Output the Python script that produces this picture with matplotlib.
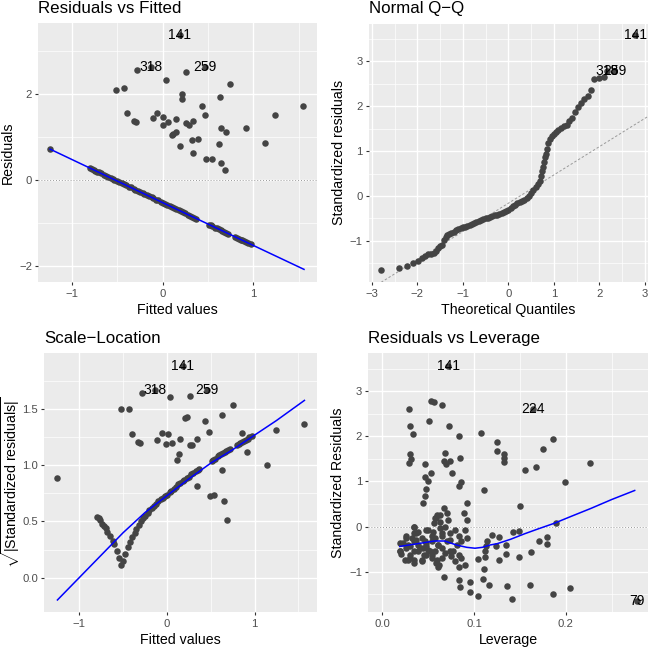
import numpy as np
import matplotlib
matplotlib.use("Agg")
import matplotlib.pyplot as plt

plt.rcParams['font.family'] = ['Liberation Sans', 'DejaVu Sans']
plt.rcParams['mathtext.fontset'] = 'custom'
plt.rcParams['mathtext.rm'] = 'Liberation Sans'
plt.rcParams['mathtext.it'] = 'Liberation Sans:italic'

PT_COL = '#444444'

# ---- Residuals vs Fitted: points off the line
rf_fit = [0.19, -0.28, -0.13, 0.47, 0.26, 0.04, -0.51, -0.42, 0.74, 0.22, 0.21, 0.63,
          0.43, 1.55, -0.39, 0.47, 1.24, -0.06, -0.10, 0.01, 0.15, -0.32, -0.29, 0.06,
          0.00, 0.26, 0.29, 0.34, 0.65, 0.92, 0.70, 0.15, 0.12, 0.10, 0.32, 0.39, 0.62,
          1.13, 0.19, 0.34, 0.48, 0.54, 0.64, 0.69, -1.24]
rf_res = [3.36, 2.55, 2.63, 2.63, 2.51, 2.32, 2.10, 2.15, 2.23, 1.99, 1.88, 1.92,
          1.72, 1.72, 1.55, 1.52, 1.52, 1.55, 1.45, 1.47, 1.43, 1.38, 1.35, 1.35,
          1.28, 1.33, 1.29, 1.38, 1.20, 1.21, 1.12, 1.12, 1.07, 1.04, 0.93, 0.96, 0.85,
          0.87, 0.79, 0.63, 0.48, 0.50, 0.40, 0.23, 0.72]
# points lying on the y = const line
line_fit = [-0.80, -0.78, -0.76, -0.74, -0.72, -0.70, -0.68, -0.65, -0.62, -0.60,
            -0.57, -0.55, -0.53, -0.50, -0.48, -0.45, -0.42, -0.40, -0.37, -0.35,
            -0.32, -0.30, -0.27, -0.25, -0.22, -0.20, -0.17, -0.15, -0.12, -0.10,
            -0.07, -0.05, -0.02, 0.00, 0.03, 0.05, 0.08, 0.10, 0.13, 0.15, 0.18,
            0.20, 0.23, 0.25, 0.28, 0.30, 0.33, 0.35, 0.37, 0.51, 0.53, 0.55, 0.58,
            0.60, 0.62, 0.64, 0.66, 0.68, 0.70, 0.72, 0.80, 0.82, 0.84, 0.86, 0.88,
            0.90, 0.92, 0.94, 0.97]
line_res = [0.28, 0.26, 0.24, 0.22, 0.20, 0.18, 0.16, 0.13, 0.10, 0.08,
            0.05, 0.03, 0.01, -0.02, -0.04, -0.07, -0.10, -0.12, -0.15, -0.17,
            -0.20, -0.22, -0.25, -0.27, -0.30, -0.32, -0.35, -0.37, -0.40, -0.42,
            -0.45, -0.47, -0.50, -0.52, -0.55, -0.57, -0.60, -0.62, -0.65, -0.67, -0.70,
            -0.72, -0.75, -0.77, -0.80, -0.82, -0.85, -0.87, -0.89, -1.03, -1.05, -1.07, -1.10,
            -1.12, -1.14, -1.16, -1.18, -1.20, -1.22, -1.24, -1.32, -1.34, -1.36, -1.38, -1.40,
            -1.42, -1.44, -1.46, -1.49]
rf_smooth_x = [-1.24, 0.00, 1.56]
rf_smooth_y = [0.72, -0.52, -2.07]
rf_labels = ['141', '318', '259']
rf_lab_x = [0.19, -0.13, 0.47]
rf_lab_y = [3.36, 2.63, 2.63]

# ---- Normal Q-Q
qq_theo = [-2.79, -2.41, -2.22, -2.09, -1.98, -1.90, -1.82, -1.76, -1.70, -1.64,
           -1.59, -1.54, -1.50, -1.46, -1.42, -1.38, -1.34, -1.30, -1.25, -1.20,
           -1.15, -1.10, -1.05, -1.00, -0.95, -0.90, -0.85, -0.80, -0.75, -0.70,
           -0.65, -0.60, -0.55, -0.50, -0.45, -0.40, -0.35, -0.30, -0.25, -0.20,
           -0.15, -0.10, -0.05, 0.00, 0.05, 0.10, 0.15, 0.20, 0.25, 0.30, 0.35,
           0.40, 0.45, 0.50, 0.55, 0.60, 0.65, 0.70, 0.72, 0.74, 0.76, 0.78, 0.80,
           0.82, 0.85, 0.88, 0.91, 0.95, 1.00, 1.05, 1.10, 1.16, 1.22, 1.28, 1.34,
           1.40, 1.46, 1.52, 1.59, 1.66, 1.74, 1.82, 1.89, 1.98, 2.09, 2.17, 2.33, 2.79]
qq_std = [-1.65, -1.61, -1.55, -1.50, -1.45, -1.37, -1.33, -1.30, -1.28, -1.26,
          -1.22, -1.16, -1.12, -1.08, -0.97, -0.91, -0.87, -0.84, -0.82, -0.79,
          -0.76, -0.74, -0.72, -0.70, -0.68, -0.66, -0.64, -0.62, -0.60, -0.58,
          -0.56, -0.54, -0.52, -0.50, -0.48, -0.47, -0.45, -0.43, -0.42, -0.40,
          -0.38, -0.36, -0.33, -0.30, -0.27, -0.23, -0.19, -0.16, -0.13, -0.11, -0.08,
          -0.04, 0.01, 0.07, 0.14, 0.21, 0.27, 0.33, 0.45, 0.55, 0.65, 0.76, 0.86,
          0.94, 1.05, 1.17, 1.27, 1.34, 1.39, 1.43, 1.47, 1.51, 1.55, 1.59, 1.66,
          1.74, 1.86, 1.99, 2.08, 2.17, 2.23, 2.35, 2.60, 2.62, 2.66, 2.78, 2.78, 3.59]
qq_line_int = -0.16
qq_line_slope = 0.63
qq_labels = ['141', '318', '259']
qq_lab_x = [2.79, 2.17, 2.33]
qq_lab_y = [3.59, 2.78, 2.78]

# ---- Scale-Location
sl_fit = [0.18, -0.29, -0.14, 0.46, 0.26, 0.04, -0.52, -0.43, 0.75, 0.21, 0.23, 0.63,
          0.43, 1.25, 1.57, 0.48, -0.40, -0.06, 0.01, -0.11, 0.15, 0.34, -0.33, -0.31,
          -0.01, 0.06, 0.26, 0.29, 0.14, 0.11, 0.91, 1.14, 0.63, 0.34, 0.49, 0.54, 0.65,
          0.69, -1.25, 0.86]
sl_val = [1.89, 1.65, 1.67, 1.67, 1.62, 1.61, 1.50, 1.50, 1.54, 1.42, 1.43, 1.45,
          1.40, 1.32, 1.37, 1.30, 1.28, 1.29, 1.28, 1.23, 1.24, 1.24, 1.21, 1.20,
          1.19, 1.20, 1.18, 1.18, 1.10, 1.05, 1.12, 1.00, 0.96, 0.82, 0.73, 0.74, 0.68,
          0.51, 0.89, 1.29]
sl_line_val = [0.54, 0.53, 0.51, 0.48, 0.46, 0.44, 0.41, 0.37, 0.33, 0.30,
               0.24, 0.17, 0.11, 0.15, 0.21, 0.27, 0.32, 0.36, 0.40, 0.43,
               0.47, 0.50, 0.53, 0.55, 0.58, 0.60, 0.62, 0.64, 0.66, 0.68,
               0.70, 0.71, 0.73, 0.74, 0.76, 0.77, 0.79, 0.81, 0.83, 0.84, 0.86,
               0.87, 0.89, 0.90, 0.92, 0.93, 0.95, 0.96, 0.97, 1.04, 1.05, 1.06, 1.08,
               1.09, 1.10, 1.11, 1.12, 1.13, 1.14, 1.15, 1.18, 1.19, 1.20, 1.21, 1.22,
               1.23, 1.24, 1.25, 1.26]
sl_smooth_x = [-1.25, -0.80, -0.50, -0.25, 0.00, 0.25, 0.50, 0.75, 1.00, 1.25, 1.57]
sl_smooth_y = [-0.20, 0.16, 0.40, 0.58, 0.73, 0.88, 1.02, 1.14, 1.27, 1.40, 1.58]
sl_labels = ['141', '318', '259']
sl_lab_x = [0.18, -0.14, 0.46]
sl_lab_y = [1.89, 1.67, 1.67]

# ---- Residuals vs Leverage
lev = [0.072, 0.164, 0.277, 0.029, 0.030, 0.033, 0.053, 0.056, 0.065, 0.051, 0.073,
       0.083, 0.108, 0.125, 0.125, 0.133, 0.133, 0.133, 0.030, 0.031, 0.029, 0.046,
       0.068, 0.067, 0.069, 0.074, 0.085, 0.076, 0.053, 0.047, 0.050, 0.048, 0.047,
       0.044, 0.086, 0.083, 0.111, 0.155, 0.167, 0.175, 0.186, 0.199, 0.226, 0.150,
       0.092, 0.189, 0.179, 0.179, 0.171, 0.162, 0.149, 0.149, 0.142, 0.135, 0.135,
       0.127, 0.124, 0.127, 0.119, 0.114, 0.113, 0.112, 0.112, 0.111, 0.110, 0.116,
       0.104, 0.104, 0.095, 0.095, 0.084, 0.085, 0.067, 0.136, 0.141, 0.161, 0.186,
       0.205,
       0.057, 0.063, 0.070, 0.072, 0.067, 0.089, 0.092, 0.090, 0.034, 0.037, 0.050,
       0.055, 0.063, 0.068, 0.074, 0.079, 0.083, 0.026, 0.023, 0.019, 0.030, 0.035,
       0.043, 0.048, 0.054, 0.057, 0.065, 0.070, 0.074, 0.081, 0.086, 0.092, 0.030,
       0.035, 0.043, 0.048, 0.054, 0.059, 0.065, 0.075, 0.079, 0.083, 0.090, 0.061,
       0.026, 0.039, 0.044, 0.052, 0.061, 0.068, 0.077, 0.084, 0.039, 0.046, 0.057,
       0.065, 0.074, 0.032, 0.086, 0.020, 0.025,
       0.019, 0.019, 0.026, 0.028, 0.030, 0.028, 0.034, 0.035, 0.035, 0.039, 0.037,
       0.041, 0.035, 0.043, 0.045, 0.048, 0.048, 0.050, 0.054, 0.056, 0.058, 0.060,
       0.061, 0.054, 0.060, 0.063, 0.062, 0.065]
lev_std = [3.55, 2.61, -1.66, 2.61, 2.22, 2.05, 2.78, 2.76, 2.69, 2.34, 2.23,
           2.00, 2.08, 1.88, 1.67, 1.61, 1.52, 1.43, 1.61, 1.50, 1.41, 1.39,
           1.63, 1.45, 1.39, 1.46, 1.52, 1.18, 1.18, 1.09, 1.02, 0.84, 0.67,
           0.53, 0.98, 0.91, 0.80, 1.26, 1.33, 1.71, 1.94, 0.99, 1.41, 0.46,
           0.52, 0.07, -0.24, -0.38, -0.31, -0.56, -0.68, -0.10, -0.13, -0.40, -0.60,
           -0.24, -0.44, -0.73, -0.18, -0.33, -0.42, -0.55, -0.68, -0.94, -1.16, -1.29,
           -0.72, -1.54, -1.23, -1.44, -1.18, -1.35, -1.11, -1.32, -1.61, -1.29, -1.49,
           -1.36,
           0.20, 0.26, 0.30, 0.15, 0.41, 0.30, 0.15, -0.07, 0.00, -0.15, -0.07,
           -0.11, -0.04, 0.00, -0.15, -0.07, -0.22, -0.26, -0.37, -0.55, -0.44, -0.33,
           -0.26, -0.44, -0.33, -0.55, -0.48, -0.33, -0.55, -0.41, -0.33, -0.26, -0.70,
           -0.81, -0.77, -0.63, -0.70, -0.81, -0.70, -0.66, -0.77, -0.89, -0.85, -0.89,
           -0.48, -0.55, -0.48, -0.55, -0.41, -0.59, -0.55, -0.63, -0.41, -0.33, -0.26,
           -0.22, -0.30, -0.26, -0.70, -0.60, -0.74,
           -0.37, -0.55, -0.22, -0.41, -0.63, -0.74, -0.74, 0.00, -0.15, -0.11, -0.30,
           -0.48, -0.55, -0.74, -0.63, -0.07, -0.37, -0.52, -0.22, 0.07, 0.18, 0.26,
           -0.41, -0.63, -0.74, 0.11, -0.85, -0.15]
lev_smooth_x = [0.019, 0.035, 0.057, 0.068, 0.081, 0.092, 0.101, 0.109, 0.117, 0.125,
                0.140, 0.155, 0.170, 0.187, 0.205, 0.227, 0.250, 0.275]
lev_smooth_y = [-0.44, -0.39, -0.32, -0.32, -0.41, -0.46, -0.48, -0.46, -0.41, -0.38,
                -0.28, -0.16, -0.05, 0.07, 0.22, 0.40, 0.60, 0.80]
lev_labels = ['141', '224', '79']
lev_lab_x = [0.072, 0.164, 0.277]
lev_lab_y = [3.55, 2.61, -1.66]

W = H = 648.0
fig = plt.figure(figsize=(6.48, 6.48), dpi=100)
fig.patch.set_facecolor('white')


def make_panel(L, R, T, B, xlim, ylim, xmaj, xmin, ymaj, ymin, title, xlabel, ylabel, ylab_x):
    ax = fig.add_axes([L / W, 1 - B / H, (R - L) / W, (B - T) / H])
    ax.set_facecolor('#EBEBEB')
    for s in ax.spines.values():
        s.set_visible(False)
    ax.set_xlim(xlim)
    ax.set_ylim(ylim)
    ax.set_xticks(xmaj)
    ax.set_xticks(xmin, minor=True)
    ax.set_yticks(ymaj)
    ax.set_yticks(ymin, minor=True)
    ax.grid(which='major', color='white', lw=1.0)
    ax.grid(which='minor', color='white', lw=0.5)
    ax.set_axisbelow(True)
    ax.tick_params(which='major', direction='out', length=2.5, width=0.8, color='#333333',
                   labelsize=8.1, labelcolor='#4D4D4D', pad=2)
    ax.tick_params(which='minor', length=0)
    fig.text(L / W, 1 - (T - 10.5) / H, title, fontsize=12.2, ha='left', va='baseline')
    fig.text((L + R) / 2 / W, 1 - (B + 31.5) / H, xlabel, fontsize=10.2, ha='center', va='baseline')
    fig.text(ylab_x / W, 1 - (T + B) / 2 / H, ylabel, fontsize=10.2, rotation=90,
             ha='center', va='center')
    return ax


def add_labels(ax, labs, xs, ys):
    for t, x, y in zip(labs, xs, ys):
        ax.text(x, y, t, fontsize=10, ha='center', va='center', color='black', zorder=4)


# Panel 1
ax1 = make_panel(38.3, 316.7, 23.3, 282.3, (-1.37, 1.70), (-2.37, 3.64),
                 [-1, 0, 1], [-0.5, 0.5, 1.5], [-2, 0, 2], [-1, 1, 3],
                 'Residuals vs Fitted', 'Fitted values', 'Residuals', 7.5)
ax1.axhline(0, color='#999999', lw=0.7, ls=(0, (1, 2)), zorder=1)
ax1.scatter(line_fit, line_res, s=22, color=PT_COL, linewidths=0, zorder=2)
ax1.scatter(rf_fit, rf_res, s=22, color=PT_COL, linewidths=0, zorder=2)
ax1.plot(rf_smooth_x, rf_smooth_y, color='#0000FF', lw=1.1, zorder=3)
add_labels(ax1, rf_labels, rf_lab_x, rf_lab_y)

# Panel 2
ax2 = make_panel(369.0, 647.7, 23.5, 282.3, (-3.06, 3.06), (-1.92, 3.84),
                 [-3, -2, -1, 0, 1, 2, 3], [-2.5, -1.5, -0.5, 0.5, 1.5, 2.5],
                 [-1, 0, 1, 2, 3], [-1.5, -0.5, 0.5, 1.5, 2.5, 3.5],
                 'Normal Q\u2212Q', 'Theoretical Quantiles', 'Standardized residuals', 339)
ax2.axline((0, qq_line_int), slope=qq_line_slope, color='#999999', lw=0.7,
           ls=(0, (2.5, 2)), zorder=1)
ax2.scatter(qq_theo, qq_std, s=22, color=PT_COL, linewidths=0, zorder=2)
add_labels(ax2, qq_labels, qq_lab_x, qq_lab_y)

# Panel 3
ax3 = make_panel(44.3, 316.7, 353.3, 612.3, (-1.40, 1.71), (-0.31, 2.00),
                 [-1, 0, 1], [-0.5, 0.5, 1.5], [0.0, 0.5, 1.0, 1.5], [0.25, 0.75, 1.25, 1.75],
                 'Scale\u2212Location', 'Fitted values',
                 r'$\sqrt{|\mathrm{Standardized\ residuals}|}$', 10.5)
ax3.scatter(line_fit, sl_line_val, s=22, color=PT_COL, linewidths=0, zorder=2)
ax3.scatter(sl_fit, sl_val, s=22, color=PT_COL, linewidths=0, zorder=2)
ax3.plot(sl_smooth_x, sl_smooth_y, color='#0000FF', lw=1.1, zorder=3)
add_labels(ax3, sl_labels, sl_lab_x, sl_lab_y)

# Panel 4
ax4 = make_panel(368.3, 648.0, 353.3, 612.3, (-0.0153, 0.2895), (-1.90, 3.84),
                 [0.0, 0.1, 0.2], [0.05, 0.15, 0.25],
                 [-1, 0, 1, 2, 3], [-1.5, -0.5, 0.5, 1.5, 2.5, 3.5],
                 'Residuals vs Leverage', 'Leverage', 'Standardized Residuals', 338)
ax4.axhline(0, color='#999999', lw=0.7, ls=(0, (1, 2)), zorder=1)
ax4.scatter(lev, lev_std, s=22, color=PT_COL, linewidths=0, zorder=2)
ax4.plot(lev_smooth_x, lev_smooth_y, color='#0000FF', lw=1.1, zorder=3)
add_labels(ax4, lev_labels, lev_lab_x, lev_lab_y)

fig.savefig('out.png', dpi=100)
